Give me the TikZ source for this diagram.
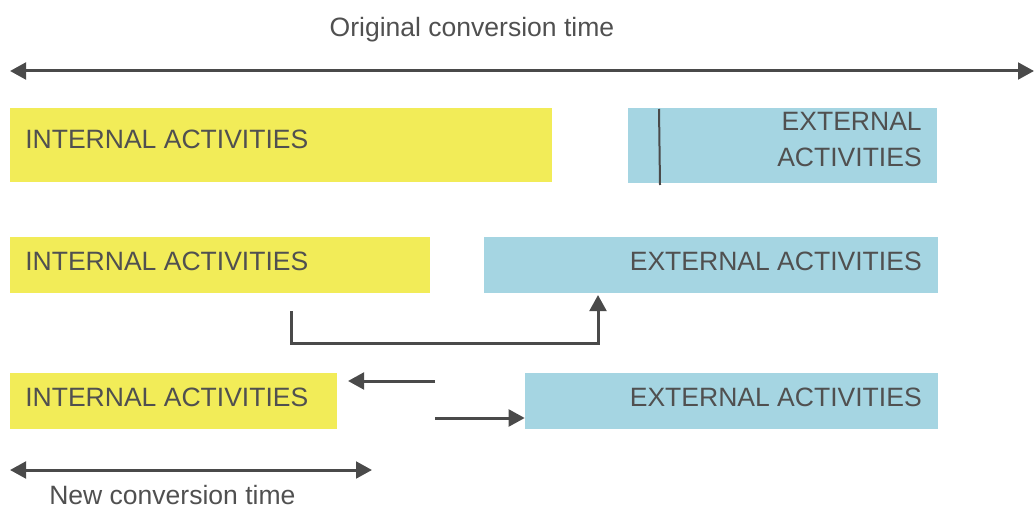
\documentclass[tikz,border=0pt]{standalone}
\usepackage{fontspec}
\setmainfont{Liberation Sans}
\usetikzlibrary{arrows.meta,calc}
\definecolor{ylw}{HTML}{F2EC58}
\definecolor{blu}{HTML}{A5D5E2}
\definecolor{txtc}{HTML}{505050}
\definecolor{arrc}{HTML}{4A4A4A}
\tikzset{
  ybox/.style={fill=ylw, draw=none, inner sep=0pt},
  bbox/.style={fill=blu, draw=none, inner sep=0pt},
  lbl/.style={text=txtc, inner sep=0pt, font=\fontsize{19.9}{27}\selectfont},
  arr/.style={draw=arrc, line width=2.25pt, -{Triangle[length=12pt,width=12.5pt]}},
  darr/.style={draw=arrc, line width=2.25pt, {Triangle[length=12pt,width=12.5pt]}-{Triangle[length=12pt,width=12.5pt]}},
  plain/.style={draw=arrc, line width=2.25pt}
}
\begin{document}
\begin{tikzpicture}[x=0.75pt,y=-0.75pt]
\useasboundingbox (0,0) rectangle (1034,510);
% title
\node[lbl, anchor=base] (title) at (472,37) {Original conversion time};
\coordinate (tl) at (10,71);
\coordinate (tr) at (1034,71);
\draw[darr] (tl) -- (tr);
% row 1
\node[ybox, minimum width=406.5pt, minimum height=55.5pt] (y1) at (281,145) {};
\node[bbox, minimum width=231.75pt, minimum height=56.25pt] (b1) at (782.5,145.5) {};
\node[lbl, anchor=west] (ty1) at (25,139) {INTERNAL ACTIVITIES};
\node[lbl, anchor=east, align=right] (tb1) at (922,140) {EXTERNAL\\ACTIVITIES};
\coordinate (v1) at (659,109);
\coordinate (v2) at (660,185);
\draw[draw=arrc, line width=1.5pt] (v1) -- (v2);
% row 2
\node[ybox, minimum width=315pt, minimum height=42pt] (y2) at (220,265) {};
\node[bbox, minimum width=340.5pt, minimum height=42pt] (b2) at (711,265) {};
\node[lbl, anchor=west] (ty2) at (25,261) {INTERNAL ACTIVITIES};
\node[lbl, anchor=east] (tb2) at (922,261) {EXTERNAL ACTIVITIES};
\coordinate (c1) at (291,311);
\coordinate (c2) at (598,295);
\draw[arr] (c1) -- ++(0,32) -| (c2);
% row 3
\node[ybox, minimum width=245.25pt, minimum height=42pt] (y3) at (173.5,401) {};
\node[bbox, minimum width=309.75pt, minimum height=42pt] (b3) at (731.5,401) {};
\node[lbl, anchor=west] (ty3) at (25,397) {INTERNAL ACTIVITIES};
\node[lbl, anchor=east] (tb3) at (922,397) {EXTERNAL ACTIVITIES};
\coordinate (a1) at (435,381);
\coordinate (a1e) at (348,381);
\draw[arr] (a1) -- (a1e);
\coordinate (a2) at (435,418);
\draw[arr] (a2) -- (a2 -| b3.west);
% bottom
\coordinate (bl) at (10,470);
\coordinate (br) at (372,470);
\draw[darr] (bl) -- (br);
\node[lbl, anchor=base west] (newt) at (49,504) {New conversion time};
\end{tikzpicture}
\end{document}
